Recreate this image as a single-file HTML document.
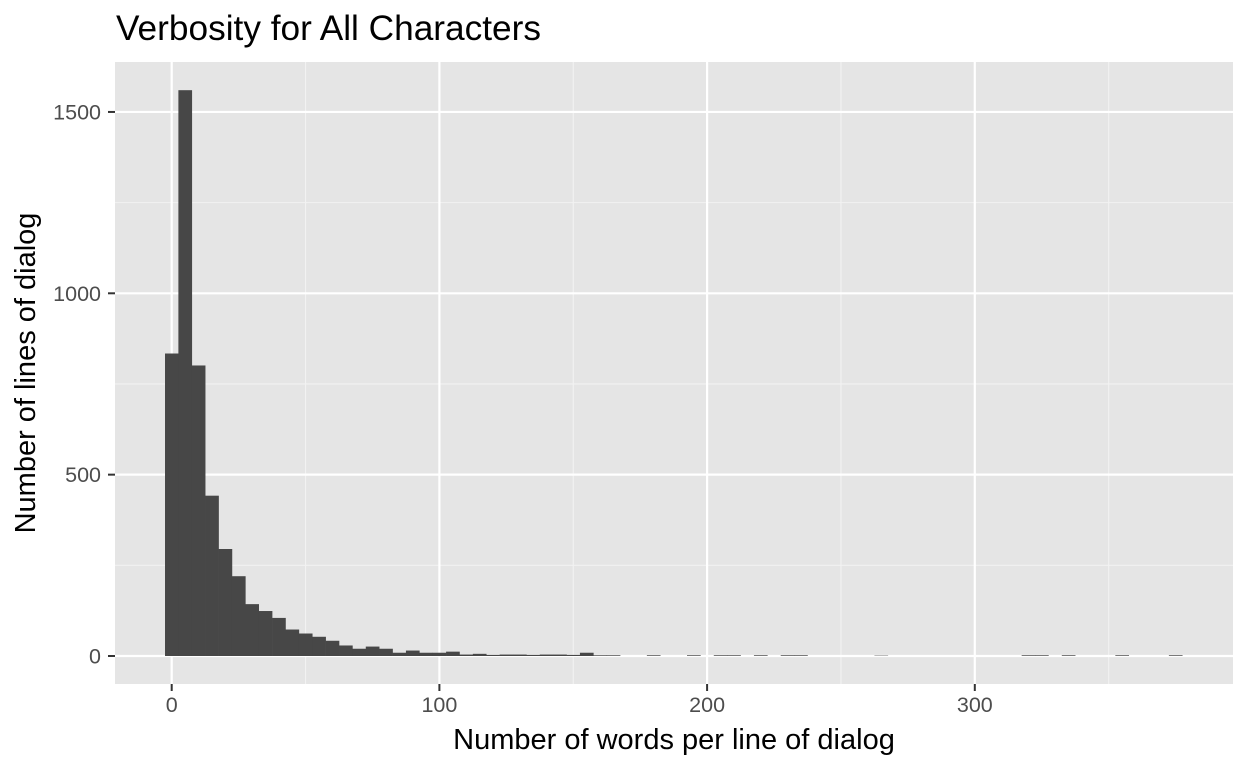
<!DOCTYPE html>
<html><head><meta charset="utf-8"><style>
body{margin:0;background:#fff;}
svg text{font-family:"Liberation Sans",Arial,sans-serif;}
</style></head><body>
<svg id="chart" width="1248" height="768" viewBox="0 0 1248 768" xmlns="http://www.w3.org/2000/svg">
<rect x="0" y="0" width="1248" height="768" fill="#fff"/>
<text x="116" y="40" font-size="35" textLength="425" lengthAdjust="spacingAndGlyphs" fill="#000">Verbosity for All Characters</text>
<rect x="115" y="62" width="1118" height="622" fill="#e5e5e5"/>
<g id="grid"></g>
<g id="bars"></g>
<g id="axes"></g>
<text x="674" y="749" font-size="29" text-anchor="middle" fill="#000">Number of words per line of dialog</text>
<text x="0" y="0" font-size="29" text-anchor="middle" fill="#000" transform="translate(35,373) rotate(-90)">Number of lines of dialog</text>
</svg>
<script>
const binWidth = 5;
const binCenters = [];
for (let i = 0; i <= 75; i++) binCenters.push(i * binWidth);
const counts = [834,1560,801,442,295,220,143,124,105,73,62,53,42,29,20,26,20,9,15,9,
9,12,4,6,3,4,4,3,4,4,3,9,2,2,0,0,2,0,0,2,
0,2,2,0,2,0,2,2,0,0,0,0,0,1,0,0,0,0,0,0,
0,0,0,0,2,2,0,2,0,0,0,2,0,0,0,2];
const xTicks = [0,100,200,300];
const xMinor = [50,150,250,350];
const yTicks = [0,500,1000,1500];
const yMinor = [250,750,1250];

const NS = "http://www.w3.org/2000/svg";
const L = 115, R = 1233, T = 62, B = 684;
function xs(v){ return 171.7 + v * 2.677; }
function ys(v){ return 656 - v * 0.3627; }
function mk(tag, attrs, parent){ const e = document.createElementNS(NS, tag); for (const k in attrs) e.setAttribute(k, attrs[k]); parent.appendChild(e); return e; }
const grid = document.getElementById('grid'), bars = document.getElementById('bars'), axes = document.getElementById('axes');

yMinor.forEach(v => { const e = mk('line', {x1:L, x2:R, y1:ys(v), y2:ys(v), stroke:'#f2f2f2', 'stroke-width':1.1}, grid);
    });
xMinor.forEach(v => { const e = mk('line', {x1:xs(v), x2:xs(v), y1:T, y2:B, stroke:'#f2f2f2', 'stroke-width':1.1}, grid);
    });
yTicks.forEach(v => { const e = mk('line', {x1:L, x2:R, y1:ys(v), y2:ys(v), stroke:'#fff', 'stroke-width':2.2}, grid);
    });
xTicks.forEach(v => { const e = mk('line', {x1:xs(v), x2:xs(v), y1:T, y2:B, stroke:'#fff', 'stroke-width':2.2}, grid);
    });

binCenters.forEach((c, i) => {
  const v = counts[i]; if (!v) return;
  const x0 = xs(c - binWidth/2), x1 = xs(c + binWidth/2);
  const e = mk('rect', {x:x0, y:ys(v), width:x1 - x0 + 0.3, height:ys(0) - ys(v), fill:'#474747'}, bars);
  
  
});

xTicks.forEach(v => {
  const t = mk('line', {x1:xs(v), x2:xs(v), y1:B, y2:B+7, stroke:'#333', 'stroke-width':2}, axes);
   
  const l = mk('text', {x:xs(v), y:712, 'font-size':21.5, 'text-anchor':'middle', fill:'#4d4d4d'}, axes);
  l.textContent = String(v);
   
});
yTicks.forEach(v => {
  const t = mk('line', {x1:L-7, x2:L, y1:ys(v), y2:ys(v), stroke:'#333', 'stroke-width':2}, axes);
   
  const l = mk('text', {x:L-14, y:ys(v)+7.5, 'font-size':21.5, 'text-anchor':'end', fill:'#4d4d4d'}, axes);
  l.textContent = String(v);
   
});
</script>
</body></html>
